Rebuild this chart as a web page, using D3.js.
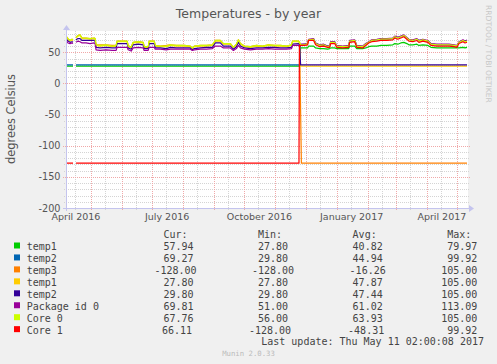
<!DOCTYPE html>
<html><head><meta charset="utf-8">
<script src="https://cdn.jsdelivr.net/npm/d3@7/dist/d3.min.js"></script>
<style>body{margin:0;background:#f0f0f0;} svg{display:block}</style>
</head><body><svg id="c" width="497" height="364"></svg>
<script>
// ---------------- data ----------------
const title = "Temperatures - by year";
const yAxisTitle = "degrees Celsius";
const startTime = "2016-04-06T02:00:00Z";
const spanDays = 400;
const yTicks = [50, 0, -50, -100, -150, -200];
const xTickMonths = ["2016-04-01", "2016-07-01", "2016-10-01", "2017-01-01", "2017-04-01"];
const xTickLabels = ["April 2016", "July 2016", "October 2016", "January 2017", "April 2017"];
const seriesNames = ["temp1", "temp2", "temp3", "temp1", "temp2", "Package id 0", "Core 0", "Core 1"];
const seriesColors = ["#00cc00", "#0066b3", "#ff8000", "#ffcc00", "#330099", "#990099", "#ccff00", "#ff0000"];
const legendCur = [57.94, 69.27, -128.00, 27.80, 29.80, 69.81, 67.76, 66.11];
const legendMin = [27.80, 29.80, -128.00, 27.80, 29.80, 51.00, 56.00, -128.00];
const legendAvg = [40.82, 44.94, -16.26, 47.87, 47.44, 61.02, 63.93, -48.31];
const legendMax = [79.97, 99.92, 105.00, 105.00, 105.00, 113.09, 105.00, 99.92];
const legendHeaders = ["Cur:", "Min:", "Avg:", "Max:"];
const lastUpdate = "Last update: Thu May 11 02:00:08 2017";
const footer = "Munin 2.0.33";
const watermark = "RRDTOOL / TOBI OETIKER";

// sample positions, days after startTime
const flatPreDays = [0, 7, 8, 10, 233];
const flatPostDays = [234, 400];
const temp3PostDays = [234.8, 400];
const core1PreDays = [0, 7, 8, 10, 232.4];
const core1PostDays = [232.8,238,241,242,247,249,253,257,261,263,264,268,270,276,282,283,288,290,296,299,302,305,310,314,320,326,328,331,334,337,340,342,346,350,352,356,361,364,370,376,382,387,390,392,396,398,400];
const preDays = [0,2,4,6,7,8,10,12,14,16,20,24,28,29,30,34,40,46,50,51,56,61,62,65,67,72,77,78,82,83,88,89,94,100,104,110,118,124,126,128,134,140,146,149,154,157,164,167,170,172,174,178,184,190,196,202,208,214,220,225,226,232,233];
const postDays = [234,238,241,242,247,249,253,257,261,263,264,268,270,276,282,283,288,290,296,299,302,305,310,314,320,326,328,331,334,337,340,342,346,350,352,356,361,364,370,376,382,387,390,392,396,398,400];

// values
const temp1FlatPre = [27.8, 27.8, null, 27.8, 27.8];
const temp1Post = [57,57,57,60,60,57,56,56,55,56,57,57,56,56,56,60,60,56,56,57,59,60,60,61,61,62,64,63,65,66,64,62,62,63,61,62,61,58,57,57,57,57,57,57,58,57,57.94];
const temp2FlatPre = [29.8, 29.8, null, 29.8, 29.8];
const temp2Post = [62,63,64,70,71,65,61,62,60,60,66,67,60,59,60,68,69,61,59,63,66,69,70,71,71,72,75,74,75,77,73,71,69,71,69,70,68,64,62,62,62,61,60,66,69,68,69.27];
const temp3Pre = [76,72,69,71,70,null,74,77,78,73,73,72,73,72,62,62,62,61,61,68,68,68,61,58,66,67,66,59,59,68,68,61,60,61,62,61,61,60,57,60,61,61,62,69,69,64,64,58,63,70,64,60,59,61,60,62,61,61,60,62,68,68,66];
const temp3FlatPost = [-128, -128];
const temp1bPre = [75,71,68,70,69,null,73,76,77,72,72,71,72,71,61,60,61,59,60,67,67,67,59,57,65,66,65,58,58,67,67,60,59,59,61,60,60,59,56,59,60,60,61,68,68,63,63,57,62,69,63,59,58,60,59,61,60,60,59,61,67,67,65];
const temp1bFlatPost = [27.8, 27.8];
const temp2bPre = [72,68,66,67,66,null,70,72,72,69,69,69,69,68,58,57,58,57,57,64,64,64,57,55,62,63,62,56,56,64,64,57,57,56,58,57,57,57,54,56,57,58,58,65,65,60,60,55,59,66,60,57,56,57,57,58,58,57,57,58,63,64,62];
const temp2bFlatPost = [29.8, 29.8];
const packagePre = [70,65,64,65,64,null,66,68,67,65,65,64,65,64,54,53,54,53,53,58,58,58,54,52,57,58,57,53,53,58,58,55,55,54,55,55,55,55,53,54,55,55,56,60,60,57,57,53,56,61,57,55,54,55,55,56,55,55,55,56,61,61,59];
const packagePost = [63,63,65,71,72,65,62,63,60,61,67,67,61,60,61,69,70,61,60,64,67,70,71,72,72,73,76,74,76,78,74,71,70,72,69,71,69,64,63,63,63,62,61,67,70,68,69.81];
const core0Pre = [76,72,69,71,70,null,74,77,78,73,73,72,73,72,62,61,62,60,61,68,68,68,60,58,66,67,66,59,59,68,68,61,60,60,62,61,61,60,57,60,61,61,62,69,69,64,64,58,63,70,64,60,59,61,60,62,61,61,60,62,68,68,66];
const core0Post = [62,62,64,70,71,64,61,62,59,60,66,66,60,59,60,68,69,60,59,63,66,69,70,71,71,72,75,73,75,77,73,70,69,71,68,70,68,63,62,62,62,61,60,66,69,67,68];
const core1FlatPre = [-128, -128, null, -128, -128];
const core1Post = [61,61,62,69,69,62,59,60,58,58,64,64,58,57,58,66,67,58,57,61,65,67,68,69,69,70,73,71,73,75,71,68,67,69,66,68,66,61,60,60,60,59,58,64,67,65,66.11];

const seriesDays = [
  flatPreDays.concat(postDays),
  flatPreDays.concat(postDays),
  preDays.concat(temp3PostDays),
  preDays.concat(flatPostDays),
  preDays.concat(flatPostDays),
  preDays.concat(postDays),
  preDays.concat(postDays),
  core1PreDays.concat(core1PostDays)
];
const seriesValues = [
  temp1FlatPre.concat(temp1Post),
  temp2FlatPre.concat(temp2Post),
  temp3Pre.concat(temp3FlatPost),
  temp1bPre.concat(temp1bFlatPost),
  temp2bPre.concat(temp2bFlatPost),
  packagePre.concat(packagePost),
  core0Pre.concat(core0Post),
  core1FlatPre.concat(core1Post)
];

// ---------------- drawing ----------------
const svg = d3.select("#c");
const W = 497, H = 364;
const px0 = 66, px1 = 467, pyTop = 31, pyBot = 208;
const DAY = 864e5;
const t0 = new Date(startTime);
const t1 = new Date(+t0 + spanDays * DAY);
const x = d3.scaleUtc().domain([t0, t1]).range([px0, px1]);
const y = d3.scaleLinear().domain([-200, 84.2]).range([pyBot, pyTop]);
const sans = "DejaVu Sans", mono = "DejaVu Sans Mono";

svg.append("rect").attr("width", W).attr("height", H).attr("fill", "#f0f0f0");
svg.append("rect").attr("x", px0).attr("y", pyTop).attr("width", px1 - px0 + 1).attr("height", pyBot - pyTop).attr("fill", "#ffffff");

// grid
const g = svg.append("g");
const minorCol = "#d4d4d4", majorCol = "#f0a8a8";
d3.utcMonth.range(d3.utcMonth.offset(t0, -1), t1).map(d => d3.utcDay.offset(d, 14))
  .filter(d => d >= t0 && d <= t1).forEach(d => {
  const xx = Math.round(x(d)) + 0.5;
  g.append("line").attr("x1", xx).attr("x2", xx).attr("y1", pyTop).attr("y2", pyBot + 2)
    .attr("stroke", minorCol).attr("stroke-dasharray", "1,1");
});
d3.range(-200, 85, 10).filter(v => v % 50 !== 0).forEach(v => {
  const yy = Math.round(y(v)) + 0.5;
  g.append("line").attr("x1", px0 - 2).attr("x2", px1 + 2).attr("y1", yy).attr("y2", yy)
    .attr("stroke", minorCol).attr("stroke-dasharray", "1,1");
});
d3.utcMonth.range(t0, t1).forEach(d => {
  const xx = Math.round(x(d)) + 0.5;
  g.append("line").attr("x1", xx).attr("x2", xx).attr("y1", pyTop).attr("y2", pyBot + 2)
    .attr("stroke", majorCol).attr("stroke-dasharray", "1,1");
});
yTicks.forEach(v => {
  const yy = Math.round(y(v)) + 0.5;
  g.append("line").attr("x1", px0 - 3).attr("x2", px1 + 3).attr("y1", yy).attr("y2", yy)
    .attr("stroke", majorCol).attr("stroke-dasharray", "1,1");
});

// lines
svg.append("clipPath").attr("id", "clip").append("rect")
  .attr("x", px0).attr("y", pyTop).attr("width", px1 - px0 + 1).attr("height", pyBot - pyTop);
const line = d3.line().defined(d => d.v !== null).x(d => x(d.t)).y(d => y(d.v));
const lg = svg.append("g").attr("clip-path", "url(#clip)");
seriesNames.forEach((n, i) => {
  const pts = seriesDays[i].map((dd, k) => ({ t: new Date(+t0 + dd * DAY), v: seriesValues[i][k] }));
  lg.append("path").attr("d", line(pts)).attr("fill", "none")
    .attr("stroke", seriesColors[i]).attr("stroke-width", 1.2).attr("stroke-linejoin", "round");
});

// axes
const axCol = "#c4c4ee";
svg.append("line").attr("x1", px0 - 3).attr("x2", px1 + 2).attr("y1", pyBot + 0.5).attr("y2", pyBot + 0.5).attr("stroke", axCol);
svg.append("line").attr("x1", px0 + 0.5).attr("x2", px0 + 0.5).attr("y1", pyBot + 3).attr("y2", pyTop - 1).attr("stroke", axCol);
svg.append("path").attr("d", `M${px1 + 2},${pyBot - 3} L${px1 + 7},${pyBot + 0.5} L${px1 + 2},${pyBot + 4} Z`).attr("fill", axCol);
svg.append("path").attr("d", `M${px0 - 3},${pyTop - 1} L${px0 + 0.5},${pyTop - 6} L${px0 + 4},${pyTop - 1} Z`).attr("fill", axCol);

// y tick labels
yTicks.forEach(v => {
  svg.append("text").attr("x", 60.5).attr("y", y(v) + 3.5).attr("text-anchor", "end")
    .attr("font-family", sans).attr("font-size", 9.7).attr("fill", "#555").text(v);
});
// x tick labels (centered mid-month)
xTickMonths.forEach((m, i) => {
  const d = new Date(+new Date(m + "T00:00:00Z") + 15 * DAY);
  svg.append("text").attr("x", x(d)).attr("y", 220).attr("text-anchor", "middle")
    .attr("font-family", sans).attr("font-size", 9.5).attr("fill", "#555").text(xTickLabels[i]);
});

// titles
svg.append("text").attr("x", 248.5).attr("y", 18).attr("text-anchor", "middle")
  .attr("font-family", sans).attr("font-size", 12.5).attr("fill", "#555").text(title);
svg.append("text").attr("transform", "translate(14.5,119) rotate(-90)").attr("text-anchor", "middle")
  .attr("font-family", sans).attr("font-size", 11.4).attr("fill", "#555").text(yAxisTitle);
svg.append("text").attr("transform", "translate(486,5) rotate(90)").attr("text-anchor", "start")
  .attr("font-family", sans).attr("font-size", 7.6).attr("fill", "#c8c8c8").text(watermark);

// legend (rrdtool-like justified rows)
const fs = 10;
const probe = svg.append("text").attr("font-family", mono).attr("font-size", fs).text("0000000000");
const cw = probe.node().getComputedTextLength() / 10;
probe.remove();
const labelX = 26.7, labelEnd = labelX + 12 * cw, rightEnd = 477.3;
function layoutRow(items, baseline) {
  const widths = items.map(s => s.length * cw);
  const gap = (rightEnd - labelEnd - d3.sum(widths)) / items.length;
  let pos = labelEnd;
  items.forEach((s, k) => {
    pos += gap;
    const lead = s.length - s.trimStart().length;
    svg.append("text").attr("x", pos + lead * cw).attr("y", baseline)
      .attr("font-family", mono).attr("font-size", fs).attr("fill", "#444").text(s.trim());
    pos += widths[k];
  });
}
const fmt = v => v.toFixed(2).padStart(6, " ");
layoutRow(legendHeaders.map(h => (" " + h).padEnd(6, " ")), 238);
seriesNames.forEach((n, i) => {
  const base = 250 + i * 11.95;
  svg.append("rect").attr("x", 14).attr("y", base - 7.5).attr("width", 6).attr("height", 6).attr("fill", seriesColors[i]);
  svg.append("text").attr("x", labelX).attr("y", base).attr("font-family", mono).attr("font-size", fs)
    .attr("fill", "#444").text(n);
  layoutRow([fmt(legendCur[i]), fmt(legendMin[i]), fmt(legendAvg[i]), fmt(legendMax[i])], base);
});
svg.append("text").attr("x", 484).attr("y", 345).attr("text-anchor", "end")
  .attr("font-family", mono).attr("font-size", fs).attr("fill", "#444").text(lastUpdate);
svg.append("text").attr("x", 248.5).attr("y", 356).attr("text-anchor", "middle")
  .attr("font-family", mono).attr("font-size", 7.3).attr("fill", "#bbb").text(footer);
</script></body></html>
